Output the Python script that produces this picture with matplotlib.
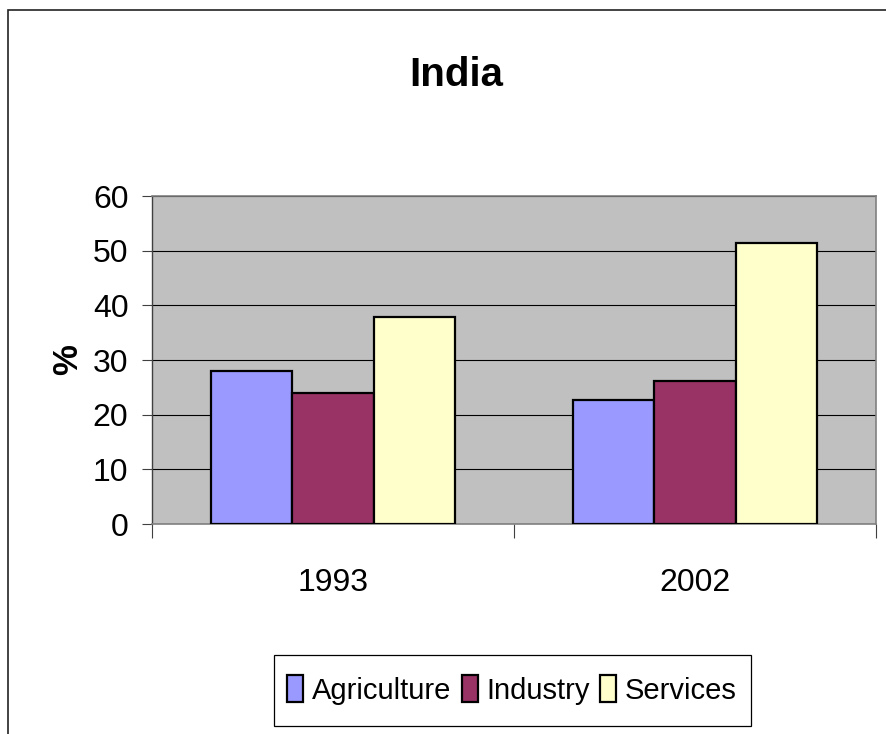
import matplotlib
matplotlib.use("Agg")
import matplotlib.pyplot as plt
import matplotlib.patches as mpatches
import numpy as np

plt.rcParams['font.family'] = ['Liberation Sans', 'DejaVu Sans']

years = ['1993', '2002']
sectors = ['Agriculture', 'Industry', 'Services']
agriculture = [28.0, 22.6]
industry = [23.9, 26.1]
services = [37.8, 51.4]
colors = ['#9999FF', '#993366', '#FFFFCC']
yticks = [0, 10, 20, 30, 40, 50, 60]

W, H = 886, 734
fig = plt.figure(figsize=(W / 100, H / 100), dpi=100)

# plot area in pixels: left 152, right 876, top 196, bottom 524
ax = fig.add_axes([152 / W, 1 - 524 / H, 724 / W, 328 / H])
ax.set_facecolor('#C0C0C0')

x = np.arange(len(years))
bw = 0.224
series = [agriculture, industry, services]
for i, (name, vals) in enumerate(zip(sectors, series)):
    ax.bar(x + (i - 1) * bw, vals, bw, color=colors[i], edgecolor='black',
           linewidth=1.6, label=name, zorder=3)

ax.set_xlim(-0.5, 1.5)
ax.set_ylim(0, 60)
ax.set_yticks(yticks)
ax.yaxis.grid(True, color='black', linewidth=0.8, zorder=1)
ax.set_axisbelow(True)

ax.set_xticks(x)
ax.set_xticklabels(years, fontsize=23)
ax.set_xticks([-0.5, 0.5, 1.5], minor=True)
ax.tick_params(axis='x', which='major', length=0, pad=32)
ax.tick_params(axis='x', which='minor', length=10, width=0.8, color='#404040')
ax.tick_params(axis='y', labelsize=23, length=7, width=0.8, color='#404040', pad=10)

for side in ['top', 'right', 'bottom']:
    ax.spines[side].set_color('#808080')
    ax.spines[side].set_linewidth(1.2)
ax.spines['left'].set_color('#404040')
ax.spines['left'].set_linewidth(1.0)

ax.set_ylabel('%', fontsize=25, fontweight='bold', va='center')
ax.yaxis.set_label_coords((68 - 152) / 724, 0.5)

fig.text(456 / W, 1 - 86 / H, 'India', fontsize=29, fontweight='bold',
         ha='center', va='baseline')

# legend entries, centred in a box spanning x 274..751, y 655..726 (pixels)
leg = ax.legend(loc='center', bbox_to_anchor=(512 / W, 1 - 690 / H),
                bbox_transform=fig.transFigure, ncol=3, fontsize=21,
                frameon=False, handlelength=0.55, handleheight=1.0,
                handletextpad=0.3, columnspacing=0.35, borderpad=0,
                borderaxespad=0)
legbox = mpatches.Rectangle((274 / W, 1 - 726 / H), 477 / W, 71 / H,
                            transform=fig.transFigure, facecolor='white',
                            edgecolor='black', linewidth=0.9, zorder=0)
fig.add_artist(legbox)

# outer chart border (right and bottom lie outside the image)
border = mpatches.Rectangle((8 / W, -0.5), 2, 0.5 + 1 - 10 / H,
                            transform=fig.transFigure, fill=False,
                            edgecolor='#222222', linewidth=1.2)
fig.add_artist(border)

fig.savefig('out.png', dpi=100)
